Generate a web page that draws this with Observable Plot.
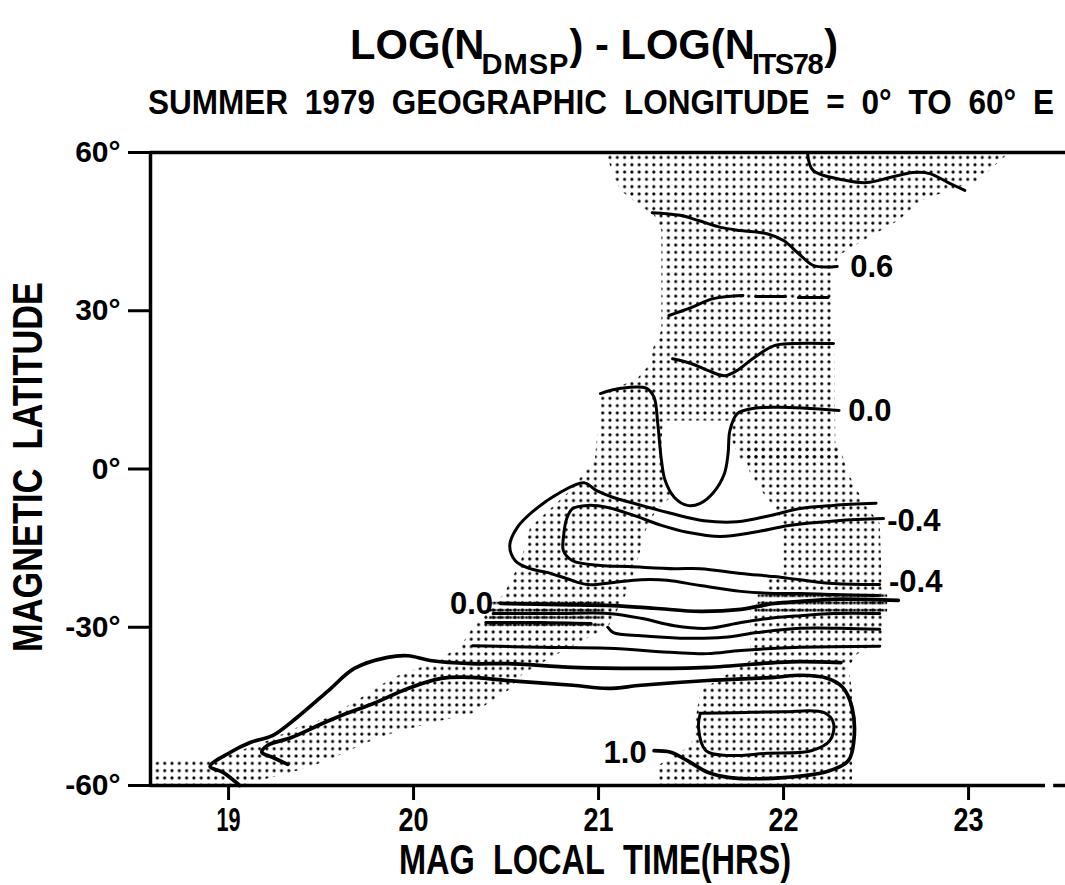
<!DOCTYPE html>
<html><head><meta charset="utf-8">
<script src="https://cdn.jsdelivr.net/npm/d3@7"></script>
<script src="https://cdn.jsdelivr.net/npm/@observablehq/plot@0.6"></script>
<style>
body{margin:0;background:#fff;}
#wrap{position:relative;width:1065px;height:885px;overflow:hidden;background:#fff;}
#chart{position:absolute;left:0;top:0;}
.t{position:absolute;white-space:pre;font-weight:bold;color:#000;line-height:1;z-index:2;font-family:"Liberation Sans",Arial,sans-serif;}
#title{left:350px;top:23px;font-size:43px;transform:scaleX(0.97);transform-origin:left top;}
#title .sub{font-size:30px;vertical-align:-15px;}
#title .s1{letter-spacing:1px;margin-left:-3px;}
#title .s2{letter-spacing:-1.5px;margin-left:-3px;margin-right:2px;}
#subtitle{left:148px;top:84px;font-size:35px;word-spacing:9px;transform:scaleX(0.9);transform-origin:left top;}
</style>
</head><body>
<div id="wrap">
  <div id="chart"></div>
  <div class="t" id="title">LOG(N<span class="sub s1">DMSP</span>) - LOG(N<span class="sub s2">ITS78</span>)</div>
  <div class="t" id="subtitle">SUMMER 1979 GEOGRAPHIC LONGITUDE = 0° TO 60° E</div>
</div>
<script>
// ---- axes ----
const xTicks = [19, 20, 21, 22, 23];
const yTicks = [-60, -30, 0, 30, 60];
const xDomain = [18.578, 23.524];
const yDomain = [-60, 60];
const xLabel = "MAG\u00a0 LOCAL\u00a0 TIME(HRS)";
const yLabel = "MAGNETIC\u00a0 LATITUDE";
const bottomAxisSegments = [{x1: 18.578, x2: 23.416}, {x1: 23.46, x2: 23.524}];

// ---- contour lines: [MLT hours, magnetic latitude deg] ----
const c1 = [[22.13,59.8],[22.16,56.6],[22.34,54.7],[22.45,54.3],[22.58,55.3],[22.70,56.2],[22.79,56.0],[22.89,54.3],[22.98,52.8]];
const c2 = [[21.29,48.6],[21.44,48.1],[21.54,47.1],[21.66,45.8],[21.77,45.2],[21.91,44.6],[22.00,43.3],[22.08,40.9],[22.16,38.6],[22.29,38.4]];
const c3a = [[21.38,29.1],[21.50,30.6],[21.62,32.3],[21.78,32.9]];
const c3b = [[21.85,32.7],[22.01,32.7]];
const c3c = [[22.08,32.5],[22.24,32.5]];
const c4 = [[21.40,20.9],[21.50,20.0],[21.59,18.7],[21.68,17.7],[21.75,18.7],[21.84,21.1],[21.95,23.4],[22.05,23.8],[22.27,23.8]];
const c5 = [[21.01,14.3],[21.12,15.3],[21.26,15.3],[21.30,13.6],[21.32,8.6],[21.34,1.6],[21.36,-2.2],[21.41,-5.4],[21.48,-6.9],[21.55,-6.5],[21.62,-4.5],[21.68,-0.9],[21.70,2.9],[21.71,7.3],[21.75,10.5],[21.84,11.5],[21.98,11.7],[22.30,11.1]];
const c6 = [[22.50,-6.5],[22.27,-6.9],[22.09,-7.5],[21.93,-8.8],[21.75,-10.0],[21.57,-9.8],[21.39,-8.4],[21.19,-6.5],[21.08,-5.4],[20.99,-4.1],[20.92,-2.6],[20.79,-4.5],[20.65,-7.9],[20.56,-11.1],[20.52,-14.5],[20.55,-17.4],[20.63,-18.9],[20.72,-19.6],[20.83,-20.8],[20.94,-21.9],[21.08,-21.5],[21.23,-21.0],[21.37,-21.1],[21.55,-22.1],[21.77,-23.2],[21.95,-23.6],[22.09,-23.6],[22.27,-23.8],[22.51,-24.0]];
const c7 = [[22.54,-9.4],[22.29,-9.8],[22.03,-10.7],[21.84,-12.0],[21.66,-12.8],[21.48,-12.0],[21.34,-10.7],[21.19,-8.8],[21.05,-7.3],[20.94,-6.9],[20.86,-7.5],[20.83,-9.2],[20.81,-13.0],[20.81,-15.5],[20.86,-17.4],[21.01,-18.3],[21.16,-18.5],[21.41,-18.9],[21.55,-18.9],[21.77,-19.8],[21.95,-20.4],[22.09,-21.0],[22.27,-21.7],[22.52,-21.9]];
const c8 = [[20.47,-25.5],[20.79,-25.7],[21.08,-25.9],[21.30,-26.4],[21.55,-27.0],[21.77,-26.6],[21.95,-25.5],[22.09,-25.1],[22.27,-24.7],[22.62,-24.9]];
const c9 = [[20.43,-27.4],[20.79,-27.4],[21.05,-27.4],[21.23,-28.3],[21.41,-29.7],[21.59,-30.2],[21.77,-29.1],[21.95,-28.2],[22.09,-27.8],[22.27,-27.4],[22.52,-27.4]];
const c10 = [[20.39,-29.1],[20.69,-29.1],[20.96,-29.3]];
const c11 = [[21.05,-30.0],[21.08,-31.0],[21.23,-31.6],[21.50,-32.1],[21.68,-31.9],[21.86,-31.0],[22.09,-30.2],[22.31,-30.2],[22.52,-30.4]];
const c12 = [[20.32,-33.5],[20.69,-33.8],[21.05,-34.0],[21.41,-34.8],[21.59,-35.0],[21.77,-34.4],[22.09,-33.8],[22.52,-33.6]];
const c13 = [[19.06,-60],[18.97,-57.5],[18.90,-56.4],[19.01,-53.7],[19.12,-51.8],[19.24,-50.5],[19.37,-47.1],[19.54,-42.0],[19.68,-37.8],[19.86,-35.7],[19.97,-35.4],[20.09,-36.3],[20.31,-36.9],[20.51,-36.9],[20.86,-37.6],[21.23,-37.8],[21.59,-37.6],[21.95,-36.7],[22.09,-36.5],[22.31,-36.7]];
const c14 = [[19.32,-56.0],[19.24,-54.7],[19.18,-53.7],[19.21,-52.4],[19.34,-50.9],[19.51,-48.2],[19.64,-46.3],[19.78,-44.5],[19.97,-41.6],[20.15,-39.7],[20.31,-39.5],[20.51,-40.1],[20.86,-41.0],[21.05,-41.6],[21.23,-41.0],[21.59,-40.1],[21.95,-39.5],[22.09,-39.1],[22.24,-39.7],[22.32,-41.4],[22.37,-45.2],[22.38,-51.5],[22.35,-55.3],[22.24,-57.3],[22.00,-58.5],[21.71,-58.5],[21.59,-57.5],[21.48,-55.3],[21.39,-53.7],[21.30,-53.4]];
const c15 = [[21.55,-46.3],[21.73,-46.2],[22.00,-46.0],[22.22,-46.2],[22.27,-48.2],[22.25,-51.5],[22.15,-53.4],[21.91,-53.9],[21.70,-54.3],[21.58,-53.4],[21.54,-49.0],[21.55,-46.3]];

// ---- contour level labels ----
const labelX = [22.36, 22.35, 22.56, 22.57, 20.43, 21.26];
const labelY = [38.2, 10.9, -9.8, -21.5, -25.7, -53.9];
const labelText = ["0.6", "0.0", "-0.4", "-0.4", "0.0", "1.0"];
const labelSide = ["start", "start", "start", "start", "end", "end"];

// ---- stippled (data coverage) regions ----
const polyTop = [[21.04,60],[23.22,60],[23.05,54.7],[22.74,50.9],[22.62,47.1],[22.43,43.3],[22.30,40.5],[22.27,38.0],[22.28,4.5],[22.30,1.6],[21.77,1.6],[21.72,5.4],[21.71,9.2],[21.35,9.2],[21.34,5.4],[21.34,1.6],[20.98,1.6],[21.01,13.9],[21.12,15.8],[21.21,17.2],[21.26,19.2],[21.30,23.4],[21.34,26.3],[21.34,45.2],[21.30,48.1],[21.21,50.3],[21.12,52.8],[21.08,55.6]];
const polyBand = [[20.98,1.6],[21.34,1.6],[21.36,-2.2],[21.40,-5.0],[21.31,-7.9],[21.26,-11.1],[21.21,-17.4],[21.16,-23.0],[21.05,-30.0],[20.78,-35.0],[20.59,-38.8],[20.51,-42.0],[20.32,-46.3],[20.15,-47.7],[19.89,-50.0],[19.75,-51.8],[19.57,-54.7],[19.43,-56.6],[19.32,-57.7],[19.16,-59.1],[19.09,-60],[18.58,-60],[18.58,-55.6],[18.74,-54.9],[18.89,-55.3],[19.06,-53.4],[19.21,-51.5],[19.37,-49.0],[19.54,-47.1],[19.75,-42.6],[19.89,-39.5],[20.09,-36.9],[20.25,-33.8],[20.32,-30.0],[20.40,-26.8],[20.49,-23.6],[20.58,-17.4],[20.63,-11.1],[20.83,-4.6]];
const polyRight = [[21.77,4.5],[22.30,4.5],[22.35,-0.9],[22.40,-4.1],[22.45,-7.3],[22.52,-10.3],[22.54,-32.5],[22.40,-35.0],[22.35,-37.6],[22.37,-42.0],[22.37,-60],[21.32,-60],[21.32,-56.2],[21.50,-52.4],[21.55,-42.0],[21.82,-36.3],[21.82,-26.3],[21.91,-24.4],[21.91,-21.1],[22.00,-19.8],[22.00,-10.3],[21.95,-7.3],[21.88,-4.1],[21.82,-0.9]];
// heavier (overprinted) hatching along the packed -30° contours
const denseLeft = [[20.42,-24.8],[21.02,-24.8],[21.02,-29.8],[20.40,-29.8]];
const denseRight = [[21.86,-23.0],[22.56,-23.0],[22.56,-27.8],[21.86,-27.8]];

// ---- build tables ----
const contours = {c1, c2, c3a, c3b, c3c, c4, c5, c6, c7, c8, c9, c10, c11, c12, c13, c14, c15};
const heavy = new Set(["c8", "c13", "c14"]);
const lineRows = Object.entries(contours).flatMap(([id, pts]) =>
  pts.map(([x, y]) => ({id, x, y, heavy: heavy.has(id)})));
const toRows = (polys) => Object.entries(polys).flatMap(([id, pts]) => pts.map(([x, y]) => ({id, x, y})));
const polyRows = toRows({polyTop, polyBand, polyRight});
const denseRows = toRows({denseLeft, denseRight});
const labels = labelText.map((t, i) => ({x: labelX[i], y: labelY[i], t, a: labelSide[i]}));

const FONT = '"Liberation Sans", Arial, sans-serif';

const plot = Plot.plot({
  width: 1065, height: 885,
  marginLeft: 150, marginRight: 0, marginTop: 152, marginBottom: 100,
  x: {domain: xDomain, axis: null},
  y: {domain: yDomain, axis: null},
  style: {fontFamily: FONT, fontWeight: "bold", background: "transparent", color: "black", overflow: "visible"},
  marks: [
    Plot.line(polyRows, {x: "x", y: "y", z: "id", fill: "url(#stipple)", stroke: "none"}),
    Plot.line(denseRows, {x: "x", y: "y", z: "id", fill: "url(#stippleDense)", stroke: "none"}),
    Plot.line(lineRows.filter(d => !d.heavy), {x: "x", y: "y", z: "id", stroke: "black", strokeWidth: 3, curve: "catmull-rom", strokeLinejoin: "round", strokeLinecap: "round"}),
    Plot.line(lineRows.filter(d => d.heavy), {x: "x", y: "y", z: "id", stroke: "black", strokeWidth: 3.7, curve: "catmull-rom", strokeLinejoin: "round", strokeLinecap: "round"}),
    Plot.text(labels.filter(d => d.a === "start"), {x: "x", y: "y", text: "t", textAnchor: "start", fontSize: 31}),
    Plot.text(labels.filter(d => d.a === "end"), {x: "x", y: "y", text: "t", textAnchor: "end", fontSize: 31}),
    Plot.ruleY([yDomain[1]], {strokeWidth: 3.5}),
    Plot.ruleX([xDomain[0]], {strokeWidth: 3.5}),
    Plot.ruleY(bottomAxisSegments, {y: yDomain[0], x1: "x1", x2: "x2", strokeWidth: 3.5}),
    Plot.axisY({ticks: yTicks, tickFormat: d => `${d}°`, tickSize: 22, tickPadding: 8, strokeWidth: 3, fontSize: 30, label: null}),
    Plot.axisX({ticks: xTicks, tickFormat: d => `${d}`, tickSize: 15, tickPadding: 6, strokeWidth: 3, fontSize: 34, label: null}),
    Plot.text([yLabel], {text: d => d, frameAnchor: "left", textAnchor: "middle", rotate: -90, dx: -122, dy: -2, fontSize: 42}),
    Plot.text([xLabel], {text: d => d, frameAnchor: "bottom", textAnchor: "middle", lineAnchor: "bottom", dx: -13, dy: 88, fontSize: 42})
  ]
});

const ns = "http://www.w3.org/2000/svg";
const defs = document.createElementNS(ns, "defs");
defs.innerHTML =
  '<pattern id="stipple" width="7.3" height="7.3" patternUnits="userSpaceOnUse"><circle cx="3.6" cy="3.6" r="1.55" fill="#000"></circle></pattern>' +
  '<pattern id="stippleDense" width="4" height="7.3" patternUnits="userSpaceOnUse"><rect x="0.5" y="2.6" width="3" height="2.4" fill="#000"></rect></pattern>';
plot.insertBefore(defs, plot.firstChild);

// condensed lettering (like the original stencil font): squeeze long labels to the reference lengths
const squeeze = (el, len) => { el.setAttribute("textLength", len); el.setAttribute("lengthAdjust", "spacingAndGlyphs"); };
plot.querySelectorAll("text").forEach(el => {
  if (el.textContent === yLabel) squeeze(el, 370);
  if (el.textContent === xLabel) squeeze(el, 392);
});
plot.querySelectorAll('g[aria-label="x-axis tick label"] text').forEach(el => squeeze(el, el.textContent === "19" ? 24 : 30));

document.getElementById("chart").appendChild(plot);
</script>
</body></html>
